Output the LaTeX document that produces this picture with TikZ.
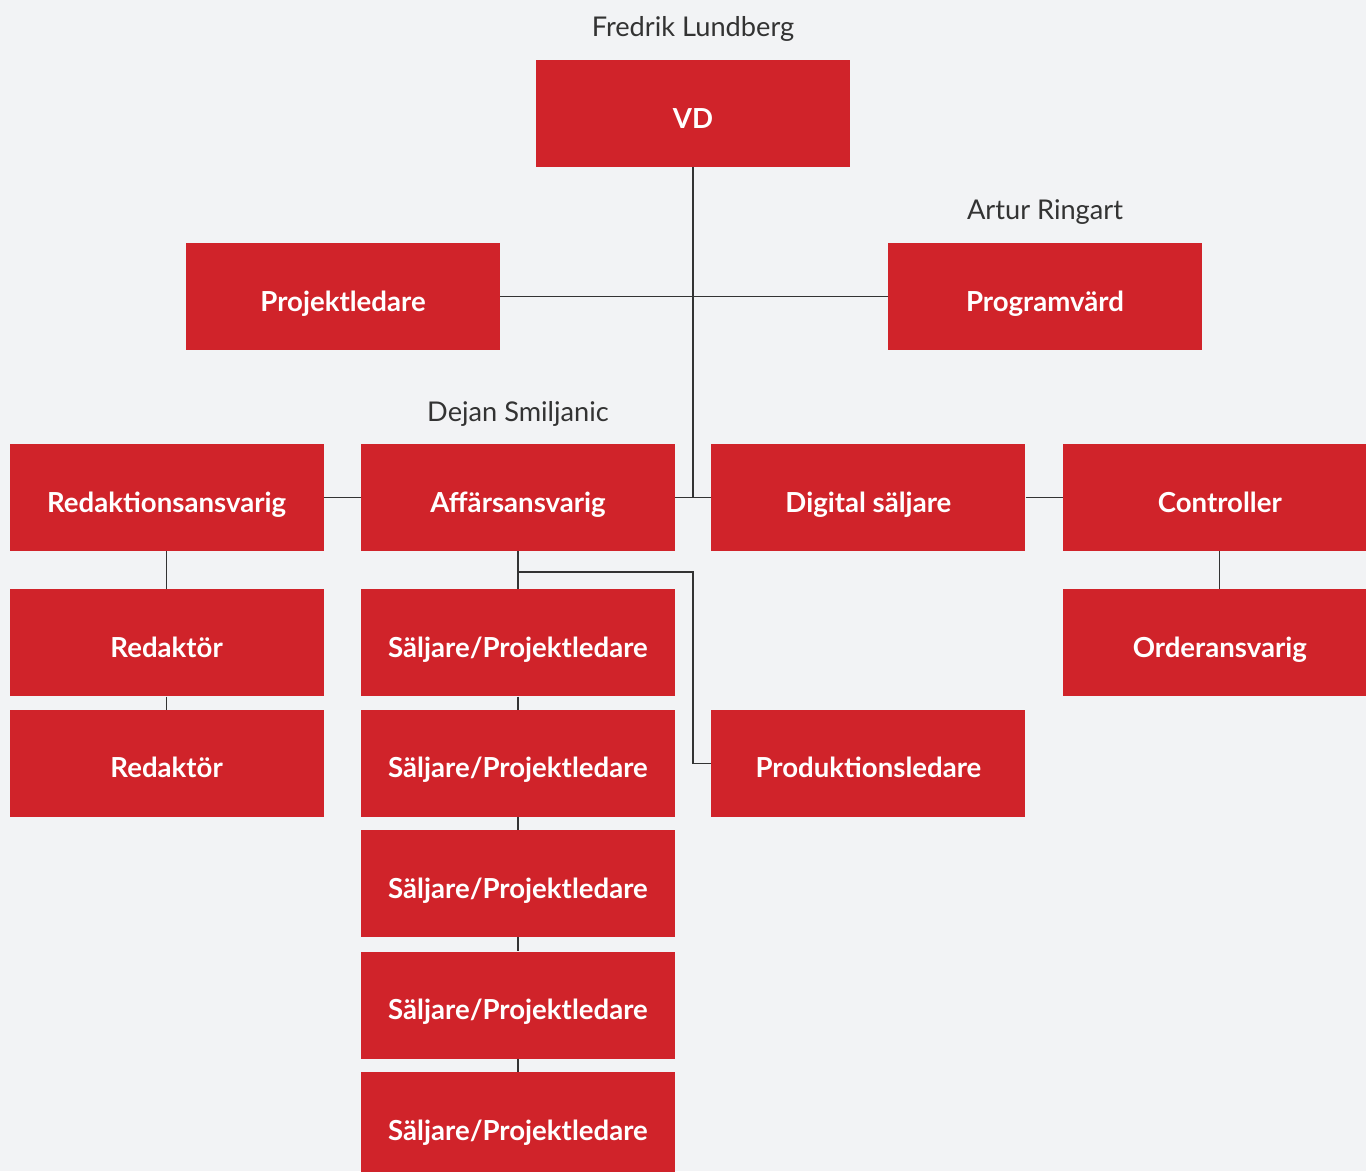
\documentclass[tikz,border=0pt]{standalone}
\usepackage{fontspec}
\setmainfont{Lato}
\usetikzlibrary{positioning}
\definecolor{boxred}{HTML}{D0232A}
\definecolor{pagegray}{HTML}{F2F3F5}
\definecolor{linegray}{HTML}{333333}

\begin{document}
\begin{tikzpicture}[x=1pt,y=-1pt,
                    role/.style={fill=boxred,text=white,inner sep=0pt,
                      minimum width=314pt,minimum height=107pt,
                      text height=29pt,text depth=0pt,
                      font=\bfseries\fontsize{27.6}{32}\selectfont},
                    person/.style={text=linegray,anchor=base,
                      font=\fontsize{27.2}{32}\selectfont},
                    link/.style={draw=linegray,line width=1.3pt}]
  \fill[pagegray] (0,0) rectangle (1366,1171);
  \clip (0,0) rectangle (1366,1171);

  \node[role]   (vd)   at (693,113.5)  {VD};
  \node[role]   (proj) at (343,296.5)  {Projektledare};
  \node[role]   (prog) at (1045,296.5) {Programvärd};
  \node[role]   (aff)  at (518,497.5)  {Affärsansvarig};
  \node[role]   (red)  [left=37pt of aff]   {Redaktionsansvarig};
  \node[role]   (dig)  [right=36pt of aff]  {Digital säljare};
  \node[role]   (ctrl) [right=37pt of dig]  {Controller};
  \node[role]   (ord)  [below=38pt of ctrl] {Orderansvarig};
  \node[role]   (red1) [below=38pt of red]  {Redaktör};
  \node[role]   (red2) [below=13pt of red1] {Redaktör};
  \node[role]   (sp1)  [below=38pt of aff]  {Säljare/Projektledare};
  \node[role]   (sp2)  [below=13pt of sp1]  {Säljare/Projektledare};
  \node[role]   (sp3)  [below=13pt of sp2]  {Säljare/Projektledare};
  \node[role]   (sp4)  [below=14pt of sp3]  {Säljare/Projektledare};
  \node[role]   (sp5)  [below=13pt of sp4]  {Säljare/Projektledare};
  \node[role]   (prod) [right=36pt of sp2]  {Produktionsledare};

  \node[person] (fl) at (693,36.5)  {Fredrik Lundberg};
  \node[person] (ar) at (1045,219) {Artur Ringart};
  \node[person] (ds) at (518,421)  {Dejan Smiljanic};

  \coordinate (bend) at (693,572);
  \draw[link] (vd) -- (vd |- aff.east);
  \draw[link] (proj) -- (prog);
  \draw[link] (red) -- (aff);
  \draw[link] (aff) -- (dig);
  \draw[link] (dig) -- (ctrl);
  \draw[link] (ctrl) -- (ord);
  \draw[link] (red) -- (red1);
  \draw[link] (red1) -- (red2);
  \draw[link] (aff) -- (sp1);
  \draw[link] (sp1) -- (sp2);
  \draw[link] (sp2) -- (sp3);
  \draw[link] (sp3) -- (sp4);
  \draw[link] (sp4) -- (sp5);
  \draw[link] (aff.south |- bend) -- (bend) |- (prod.west);
\end{tikzpicture}
\end{document}
